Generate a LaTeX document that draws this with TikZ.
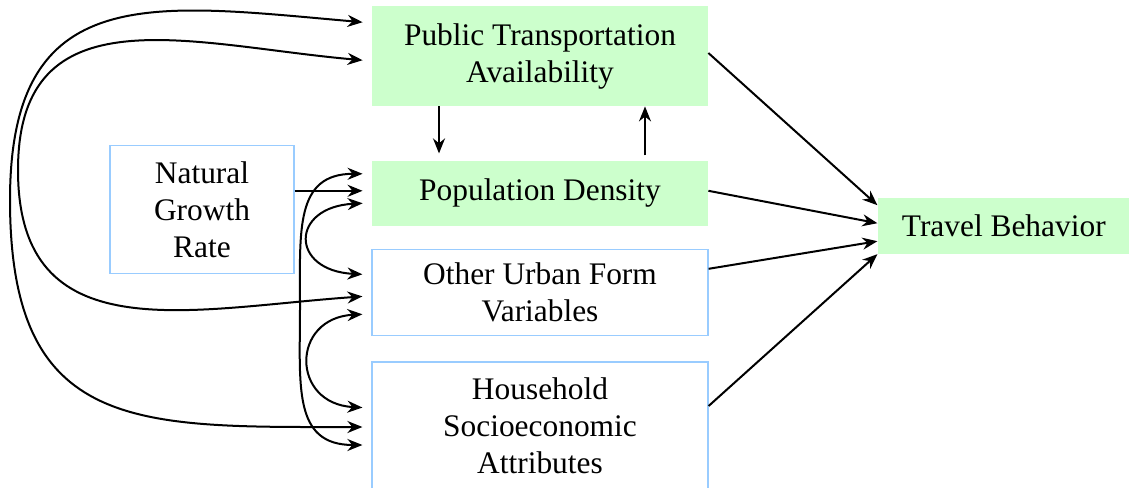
\documentclass[tikz,border=0pt]{standalone}
\usepackage{fontspec}
\setmainfont{Liberation Serif}
\usetikzlibrary{positioning, arrows.meta}

\definecolor{boxgreen}{HTML}{CCFFCC}
\definecolor{boxblue}{HTML}{99CCFF}

\begin{document}
\begin{tikzpicture}[
        x=0.5pt, y=0.5pt,
        font=\fontsize{15.7}{18.5}\selectfont,
        box/.style={align=center, minimum width=168pt, inner sep=0pt},
        greenbox/.style={box, fill=boxgreen},
        bluebox/.style={box, draw=boxblue, line width=0.6pt},
        arrow/.style={draw, line width=1pt, -{Stealth[length=7.5pt, width=6pt]}},
        twoway/.style={draw, line width=1pt, {Stealth[length=7.5pt, width=6pt]}-{Stealth[length=7.5pt, width=6pt]}, shorten <=4.5pt, shorten >=4.5pt}
    ]

    \useasboundingbox (0,0) rectangle (1129,-487);

    % Boxes
    \node (pta) [greenbox, minimum height=50pt] at (540,-56) {Public Transportation\\Availability};
    \node (density) [greenbox, minimum height=32.5pt, below=27pt of pta] {Population Density};
    \node (urban) [bluebox, minimum height=43pt, below=11.5pt of density] {Other Urban Form\\Variables};
    \node (household) [bluebox, minimum height=63.5pt, below=12.5pt of urban] {Household\\Socioeconomic\\Attributes};
    \node (growth) [bluebox, minimum width=92pt, minimum height=64pt, left=38.5pt of density, yshift=-8.25pt] {Natural\\Growth\\Rate};
    \node (travel) [greenbox, minimum width=126pt, minimum height=28pt, right=84.5pt of density.south east] {Travel Behavior};

    % Arrows between the two green boxes
    \draw[arrow, shorten >=3.5pt] ([xshift=-50.5pt]pta.south) -- ([xshift=-50.5pt]density.north);
    \draw[arrow, shorten <=2.5pt] ([xshift=52.5pt]density.north) -- ([xshift=52.5pt]pta.south);

    % Arrows into travel behavior
    \draw[arrow] ([yshift=1.5pt]pta.east) -- ([yshift=10.5pt]travel.west);
    \draw[arrow] ([yshift=1.25pt]density.east) -- ([yshift=1.5pt]travel.west);
    \draw[arrow] ([yshift=12pt]urban.east) -- ([yshift=-7.5pt]travel.west);
    \draw[arrow] ([yshift=9.75pt]household.east) -- ([yshift=-14pt]travel.west);

    % Left side
    \draw[arrow, shorten >=4.5pt] ([yshift=9.5pt]growth.east) -- ([yshift=1.25pt]density.west);
    \draw[twoway] ([yshift=16.5pt]pta.west) to[out=175, in=90, looseness=1.4] (10,-200) to[out=-90, in=180, looseness=1.4] ([yshift=-0.75pt]household.west);
    \draw[twoway] ([yshift=-2.5pt]pta.west) to[out=175, in=90, looseness=1.25] (18,-170) to[out=-90, in=184, looseness=1.25] ([yshift=-1.5pt]urban.west);
    \draw[twoway] ([yshift=9.75pt]density.west) to[out=180, in=90, looseness=1.3] (300,-307) to[out=-90, in=180, looseness=1.3] ([yshift=-9.75pt]household.west);
    \draw[twoway] ([yshift=-4.75pt]density.west) to[out=183, in=177, looseness=2.9] ([yshift=9pt]urban.west);
    \draw[twoway] ([yshift=-10.5pt]urban.west) to[out=183, in=177, looseness=2.2] ([yshift=8.75pt]household.west);

\end{tikzpicture}
\end{document}
